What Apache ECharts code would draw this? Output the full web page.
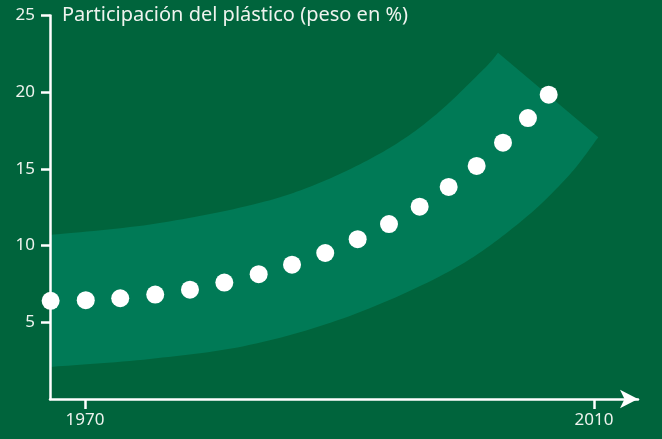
<!DOCTYPE html>
<html>
<head>
<meta charset="utf-8">
<script src="https://cdn.jsdelivr.net/npm/echarts@6/dist/echarts.min.js"></script>
<style>
  html, body { margin: 0; padding: 0; background: #00643c; }
  #chart { width: 662px; height: 439px; }
</style>
</head>
<body>
<div id="chart"></div>
<script>
// datos
var years = [1967.3, 1970.06, 1972.77, 1975.52, 1978.25, 1980.95, 1983.65, 1986.27,
  1988.88, 1991.43, 1993.89, 1996.3, 1998.58, 2000.78, 2002.85, 2004.81, 2006.44];
var shares = [6.4, 6.44, 6.57, 6.81, 7.13, 7.59, 8.14, 8.76,
  9.52, 10.42, 11.41, 12.54, 13.83, 15.2, 16.71, 18.32, 19.84];

// banda (borde superior e inferior)
var bandUpperYears = [1967.25, 1975.11, 1982.97, 1988.21, 1993.44, 1997.37, 2001.3, 2002.46];
var bandUpperValues = [10.7, 11.38, 12.63, 14.02, 16.13, 18.4, 21.48, 22.58];
var bandLowerYears = [1967.25, 1975.11, 1982.97, 1990.82, 1998.68, 2003.93, 2007.85, 2010.34];
var bandLowerValues = [2.09, 2.61, 3.53, 5.42, 8.35, 11.35, 14.41, 17.07];

var yTicks = [5, 10, 15, 20, 25];
var xTicks = [1970, 2010];
var titleText = "Participación del plástico (peso en %)";

var chart = echarts.init(document.getElementById("chart"));

// curva suave (catmull-rom) entre puntos en píxeles
function smoothPath(pts) {
  var out = [];
  for (var i = 0; i < pts.length - 1; i++) {
    var p0 = pts[Math.max(i - 1, 0)], p1 = pts[i], p2 = pts[i + 1], p3 = pts[Math.min(i + 2, pts.length - 1)];
    var c1 = [p1[0] + (p2[0] - p0[0]) / 6, p1[1] + (p2[1] - p0[1]) / 6];
    var c2 = [p2[0] - (p3[0] - p1[0]) / 6, p2[1] - (p3[1] - p1[1]) / 6];
    for (var k = 0; k < 16; k++) {
      var t = k / 16, u = 1 - t;
      out.push([
        u * u * u * p1[0] + 3 * u * u * t * c1[0] + 3 * u * t * t * c2[0] + t * t * t * p2[0],
        u * u * u * p1[1] + 3 * u * u * t * c1[1] + 3 * u * t * t * c2[1] + t * t * t * p2[1]
      ]);
    }
  }
  out.push(pts[pts.length - 1]);
  return out;
}

var axisColor = "#ffffff";
var textColor = "#eef3ee";
var font = "'Noto Sans', sans-serif";

chart.setOption({
  backgroundColor: "#00643c",
  animation: false,
  title: {
    text: titleText,
    left: 62,
    top: 5,
    padding: 0,
    textStyle: { color: textColor, fontSize: 20, fontWeight: "normal", fontFamily: font }
  },
  grid: { left: 50, right: 24, top: 15.6, bottom: 40 },
  xAxis: {
    type: "value",
    min: 1967.25,
    max: 2013.46,
    z: 3,
    splitLine: { show: false },
    axisLine: { lineStyle: { color: axisColor, width: 2.5 }, symbol: ["none", "arrow"], symbolSize: [14, 18] },
    axisTick: { show: true, customValues: xTicks, length: 10, lineStyle: { color: axisColor, width: 2.5 } },
    axisLabel: {
      customValues: xTicks, color: textColor, fontSize: 17, fontFamily: font, margin: 13,
      formatter: function (v) { return String(v); }
    }
  },
  yAxis: {
    type: "value",
    min: 0,
    max: 25,
    interval: 5,
    z: 3,
    splitLine: { show: false },
    axisLine: { show: true, lineStyle: { color: axisColor, width: 2.5 } },
    axisTick: { show: true, customValues: yTicks, length: 9, lineStyle: { color: axisColor, width: 2.5 } },
    axisLabel: { customValues: yTicks, color: textColor, fontSize: 17, fontFamily: font, margin: 15 }
  },
  series: [
    {
      type: "custom",
      z: 1,
      silent: true,
      data: [0],
      renderItem: function (params, api) {
        var up = bandUpperYears.map(function (y, i) { return api.coord([y, bandUpperValues[i]]); });
        var lo = bandLowerYears.map(function (y, i) { return api.coord([y, bandLowerValues[i]]); });
        var pts = smoothPath(lo).concat(smoothPath(up).reverse());
        return { type: "polygon", shape: { points: pts }, style: { fill: "#007a56" } };
      }
    },
    {
      type: "scatter",
      z: 5,
      symbolSize: 18,
      itemStyle: { color: "#ffffff", opacity: 1 },
      data: years.map(function (y, i) { return [y, shares[i]]; })
    }
  ]
});
</script>
</body>
</html>
